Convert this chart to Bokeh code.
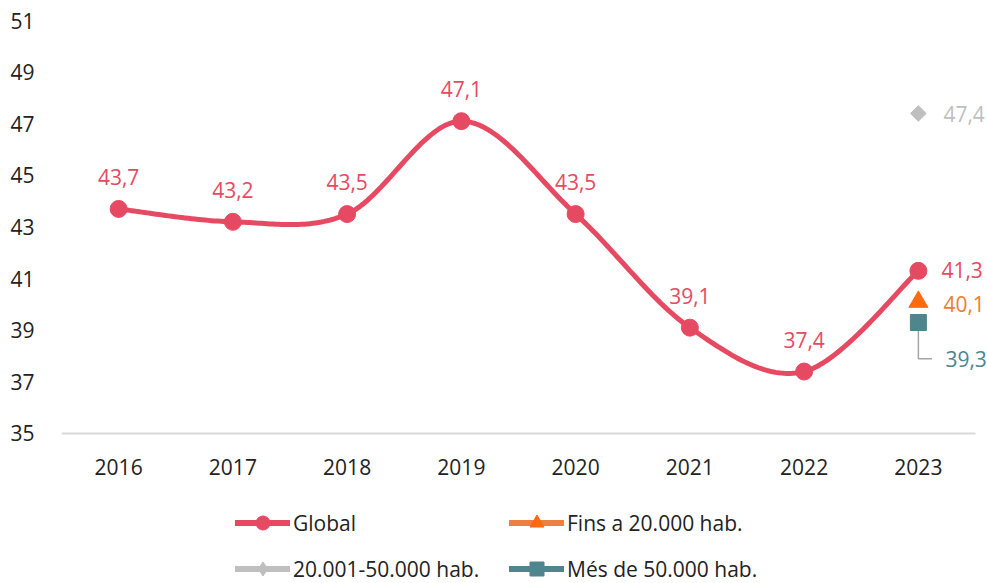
import numpy as np
from bokeh.plotting import figure
from bokeh.layouts import column
from bokeh.models import FixedTicker, Legend, LegendItem, Range1d, LabelSet, ColumnDataSource
from bokeh.core.properties import value
from bokeh.embed import file_html
from bokeh.resources import INLINE

# ---- data ----
years = ["2016", "2017", "2018", "2019", "2020", "2021", "2022", "2023"]
global_vals = [43.7, 43.2, 43.5, 47.1, 43.5, 39.1, 37.4, 41.3]
fins_20000 = [40.1]          # 2023
de_20001_50000 = [47.4]      # 2023
mes_50000 = [39.3]           # 2023
series_names = ["Global", "Fins a 20.000 hab.", "20.001-50.000 hab.", "Més de 50.000 hab."]
y_ticks = [35, 37, 39, 41, 43, 45, 47, 49, 51]

FONT = "Open Sans"
C_GLOBAL = "#E64A63"
C_FINS = "#FF6A10"
C_FINS_LINE = "#ED8040"
C_FINS_TXT = "#ED7D31"
C_MID = "#BFBFBF"
C_MES = "#4E858F"
TXT = "#222222"


def fmt(v):
    return f"{v:.1f}".replace(".", ",")


xs = list(range(len(years)))
last_x = xs[-1]


def smooth(xv, yv, n=40):
    pts = list(zip(xv, yv))
    ox, oy = [], []
    for i in range(len(pts) - 1):
        p0 = pts[i - 1] if i > 0 else pts[i]
        p1 = pts[i]
        p2 = pts[i + 1]
        p3 = pts[i + 2] if i + 2 < len(pts) else pts[i + 1]
        c1 = (p1[0] + (p2[0] - p0[0]) / 6, p1[1] + (p2[1] - p0[1]) / 6)
        c2 = (p2[0] - (p3[0] - p1[0]) / 6, p2[1] - (p3[1] - p1[1]) / 6)
        t = np.linspace(0, 1, n, endpoint=(i == len(pts) - 2))
        a = (1 - t) ** 3
        b = 3 * (1 - t) ** 2 * t
        c = 3 * (1 - t) * t ** 2
        d = t ** 3
        ox.extend(a * p1[0] + b * c1[0] + c * c2[0] + d * p2[0])
        oy.extend(a * p1[1] + b * c1[1] + c * c2[1] + d * p2[1])
    return ox, oy


# frame extends a little right/below so that labels and baseline are not clipped
x_lo, x_hi = -0.5, len(years) - 0.5
y_lo = y_ticks[0] - 0.078
p = figure(width=987, height=500, output_backend="svg", toolbar_location=None,
           x_range=Range1d(x_lo, x_hi + 0.105), y_range=Range1d(y_lo, y_ticks[-1]),
           min_border_left=61, min_border_right=0, min_border_top=20, min_border_bottom=65)
p.outline_line_color = None
p.xgrid.visible = False
p.ygrid.visible = False

# axes
p.xaxis.ticker = FixedTicker(ticks=xs)
p.xaxis.major_label_overrides = {i: y for i, y in enumerate(years)}
p.xaxis.axis_line_color = None
p.xaxis.major_tick_line_color = None
p.xaxis.minor_tick_line_color = None
p.xaxis.major_label_standoff = 17
p.xaxis.major_label_text_font = FONT
p.xaxis.major_label_text_font_size = "21px"
p.xaxis.major_label_text_color = TXT

p.yaxis.ticker = FixedTicker(ticks=y_ticks)
p.yaxis.axis_line_color = None
p.yaxis.major_tick_line_color = None
p.yaxis.minor_tick_line_color = None
p.yaxis.major_label_standoff = 21
p.yaxis.major_label_text_font = FONT
p.yaxis.major_label_text_font_size = "21px"
p.yaxis.major_label_text_color = TXT

# category baseline at the bottom of the value axis
p.line([x_lo, x_hi], [y_ticks[0], y_ticks[0]], line_color="#D9D9D9", line_width=2)

# smooth global line
sx, sy = smooth(xs, global_vals)
p.line(sx, sy, line_color=C_GLOBAL, line_width=5, line_cap="round", line_join="round")
p.scatter(xs, global_vals, marker="circle", size=17, fill_color=C_GLOBAL, line_color=C_GLOBAL)

# leader line for Més de 50.000
lead_y = mes_50000[0] - 1.4
p.line([last_x, last_x, last_x + 0.12], [mes_50000[0], lead_y, lead_y],
       line_color="#A6A6A6", line_width=1.5)

# other series (2023 only)
p.scatter([last_x], de_20001_50000, marker="square", angle=np.pi / 4, size=11,
          fill_color=C_MID, line_color=C_MID)
p.scatter([last_x], mes_50000, marker="square", size=16, fill_color=C_MES, line_color=C_MES)
p.scatter([last_x], fins_20000, marker="triangle", size=19, fill_color=C_FINS, line_color=C_FINS)


# data labels
def labels(xv, yv, color, align, xo, yo):
    src = ColumnDataSource(dict(x=xv, y=yv, t=[fmt(v) for v in yv]))
    ls = LabelSet(x="x", y="y", text="t", source=src, x_offset=xo, y_offset=yo,
                  text_font=value(FONT), text_font_size=value("21px"), text_color=value(color),
                  text_align=value(align), text_baseline=value("middle"))
    p.add_layout(ls)

labels(xs[:-1], global_vals[:-1], C_GLOBAL, "center", 0, 32)
labels([last_x], global_vals[-1:], C_GLOBAL, "left", 23, 1)
labels([last_x], de_20001_50000, C_MID, "left", 25, -1)
labels([last_x], fins_20000, C_FINS_TXT, "left", 25, -2)
labels([last_x], mes_50000, C_MES, "left", 27, -37)

# ---- legend strip (separate figure below the chart) ----
lg = figure(width=987, height=83, output_backend="svg", toolbar_location=None,
            x_range=Range1d(0, 1), y_range=Range1d(0, 1),
            x_axis_location=None, y_axis_location=None, min_border=0)
lg.outline_line_color = None
lg.xgrid.visible = False
lg.ygrid.visible = False


def legend_pair(color_line, color_marker, marker):
    ln = lg.line([np.nan], [np.nan], line_color=color_line, line_width=6, line_cap="round")
    mk = lg.scatter([np.nan], [np.nan], marker=marker, fill_color=color_marker, line_color=color_marker)
    return [ln, mk]

lg_items = [
    LegendItem(label=series_names[0], renderers=legend_pair(C_GLOBAL, C_GLOBAL, "circle")),
    LegendItem(label=series_names[1], renderers=legend_pair(C_FINS_LINE, C_FINS, "triangle")),
    LegendItem(label=series_names[2], renderers=legend_pair(C_MID, C_MID, "diamond")),
    LegendItem(label=series_names[3], renderers=legend_pair(C_MES, C_MES, "square")),
]


def make_legend(items, loc):
    return Legend(items=items, location=loc, orientation="horizontal",
                  glyph_width=55, glyph_height=35, label_height=35, label_width=200,
                  label_standoff=3, spacing=16, padding=0, margin=0,
                  border_line_color=None, background_fill_alpha=0,
                  label_text_font=FONT, label_text_font_size="21px",
                  label_text_color=TXT)

lg.add_layout(make_legend(lg_items[:2], (174, 43)))
lg.add_layout(make_legend(lg_items[2:], (174, -3)))

layout = column(p, lg, spacing=0)
open("out.html", "w").write(file_html(layout, INLINE))
